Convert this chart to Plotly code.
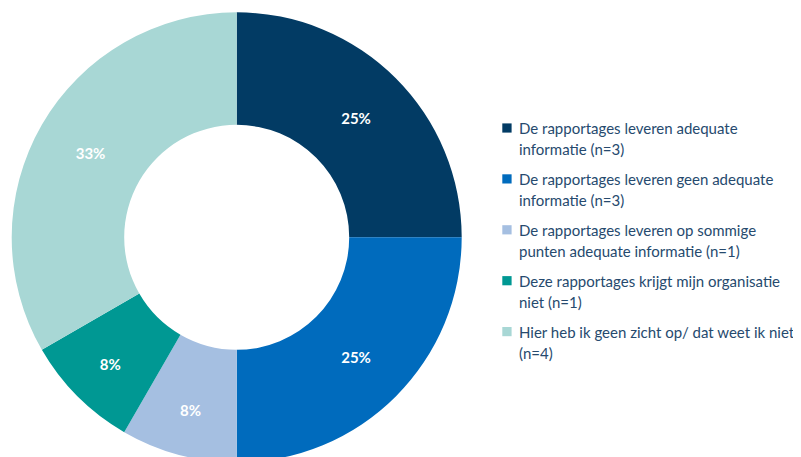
import plotly.graph_objects as go

W, H = 801, 457
OFF = 8  # the page body keeps its default 8px margin, so the figure sits 8px in

# Survey answers (counts), legend labels and slice colours
labels = [
    "De rapportages leveren adequate<br>informatie (n=3)",
    "De rapportages leveren geen adequate<br>informatie (n=3)",
    "De rapportages leveren op sommige<br>punten adequate informatie (n=1)",
    "Deze rapportages krijgt mijn organisatie<br>niet (n=1)",
    "Hier heb ik geen zicht op/ dat weet ik niet<br>(n=4)",
]
counts = [3, 3, 1, 1, 4]
colors = ["#023B64", "#006BBD", "#A5BFE1", "#009893", "#A8D7D5"]

text_color = "#264A6E"


def px(x):
    return (x - OFF) / W


def py(y):
    return 1 - (y - OFF) / H


fig = go.Figure(go.Pie(
    labels=labels,
    values=counts,
    hole=0.5,
    sort=False,
    direction="clockwise",
    rotation=0,
    marker=dict(colors=colors, line=dict(width=0)),
    texttemplate="<b>%{percent:.0%}</b>",
    textposition="inside",
    insidetextorientation="horizontal",
    textfont=dict(family="Lato", size=15, color="white"),
    # ring of radius 225 centred on (236.7, 237.3) in the page
    domain=dict(x=[0, px(465.4)], y=[py(462.3), py(12.3)]),
    showlegend=False,
))

# legend drawn by hand: square + label lines per slice
top, step, line_h = 128, 50.9, 21   # px: first square centre, entry step, line spacing
for i, (lab, col) in enumerate(zip(labels, colors)):
    yc = top + step * i
    fig.add_shape(
        type="rect", xref="paper", yref="paper",
        x0=px(502.3), x1=px(511.6),
        y0=py(yc - 4.6), y1=py(yc + 4.6),
        fillcolor=col, line=dict(width=0),
    )
    for j, line in enumerate(lab.split("<br>")):
        fig.add_annotation(
            x=px(516.5), y=py(yc + 0.3 + line_h * j),
            xref="paper", yref="paper",
            xanchor="left", yanchor="middle", align="left",
            text=line, showarrow=False,
            font=dict(family="Lato", size=15, color=text_color),
        )

fig.update_layout(
    width=W,
    height=H,
    margin=dict(l=0, r=0, t=0, b=0),
    paper_bgcolor="white",
    plot_bgcolor="white",
    font=dict(family="Lato", size=15, color=text_color),
)

fig.write_html("out.html")
